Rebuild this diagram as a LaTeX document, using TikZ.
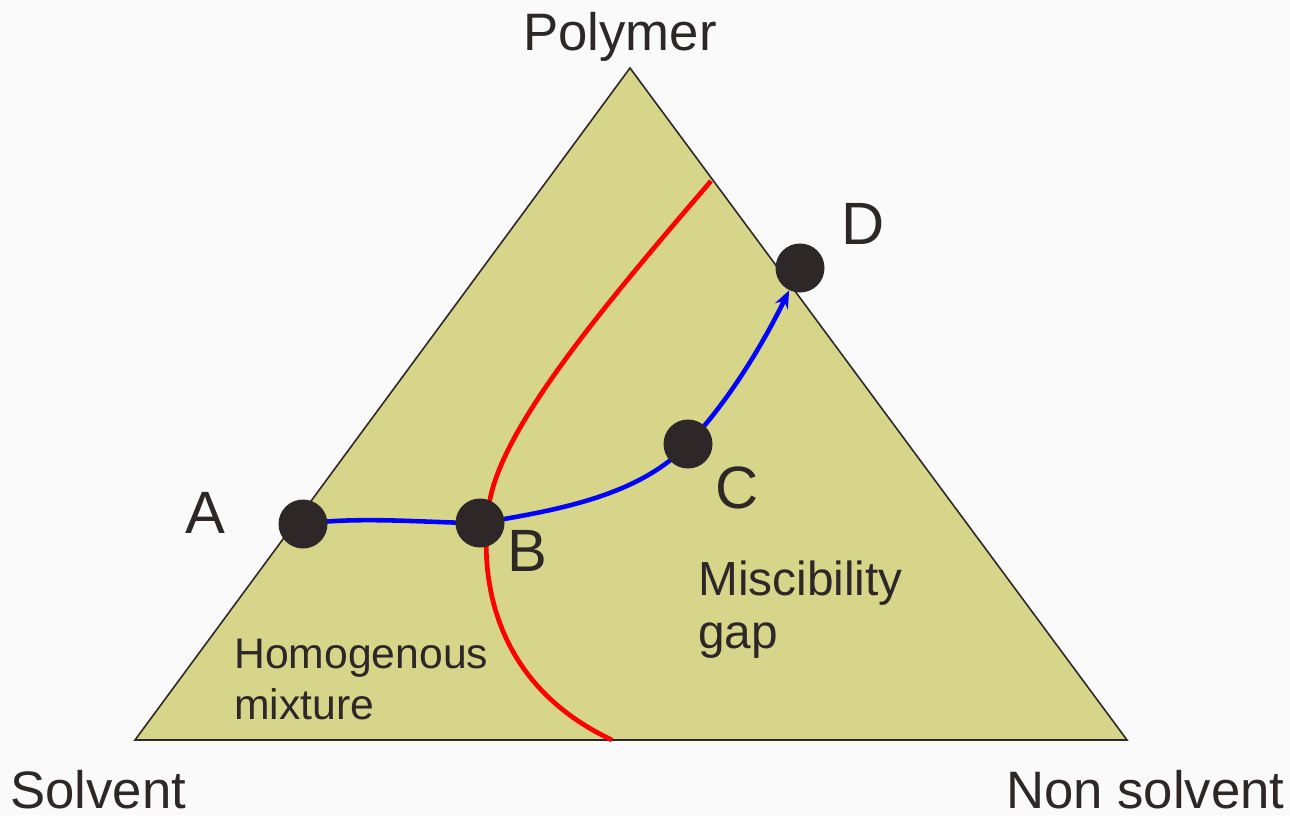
\documentclass[tikz,border=0pt]{standalone}
\usepackage{fontspec}
\setmainfont{Liberation Sans}
\usetikzlibrary{arrows.meta}
\definecolor{bgcol}{HTML}{FAFAFA}
\definecolor{fillcol}{HTML}{D7D58A}
\definecolor{inkcol}{HTML}{2D2728}
\pgfdeclarelayer{front}
\pgfsetlayers{main,front}
\tikzset{
	dot/.style={circle,fill=inkcol,minimum size=0.98cm,inner sep=0pt},
	corner/.style={text=inkcol,font=\fontsize{30}{36}\selectfont,inner sep=0pt},
	letter/.style={text=inkcol,font=\fontsize{34}{40}\selectfont,inner sep=0pt,anchor=base},
	region/.style={text=inkcol,font=\fontsize{24.3}{29}\selectfont,inner sep=0pt,align=left,anchor=base west},
	route/.style={blue,line width=2.6pt},
	binodal/.style={red,line width=2.7pt}
}
\begin{document}
\begin{tikzpicture}[x=0.02cm,y=-0.02cm]
		%Background and page size
		\fill[bgcol] (0,0) rectangle (1290,815);
		\useasboundingbox (0,0) rectangle (1290,815);
		%Ternary triangle
		\draw[fill=fillcol,draw=inkcol,line width=0.9pt] (135,740)--(630,68)--(1127,740)--cycle;
		%Binodal curve
		\draw[binodal] (711,181) .. controls (600,310) and (500,430) .. (489,505) .. controls (478,580) and (495,685) .. (612,740);
		%Composition points
		\begin{pgfonlayer}{front}
		\foreach \name/\pos in {A/{303,524},B/{480,523},C/{688,444},D/{800,268}}
		\node[dot] (\name) at (\pos) {};
		\end{pgfonlayer}
		%Precipitation path
		\draw[route] (A.center) .. controls (360,516) and (430,523) .. (B.center) .. controls (560,510) and (640,495) .. (C.center);
		\draw[route,-{Stealth[length=10pt,width=8pt]}] (C.center) .. controls (730,400) and (765,340) .. (D);
		%Labels
		\node[corner,anchor=base] (polymer) at (620,50) {Polymer};
		\node[corner,anchor=base west] (solvent) at (10,808) {Solvent};
		\node[corner,anchor=base east] (nonsolvent) at (1285,808) {Non solvent};
		\foreach \name/\pos in {A/{205,533},B/{527,571},C/{737,508},D/{863,244}}
		\node[letter] (lab\name) at (\pos) {\name};
		\node[region] (homogenous) at (234,719) {Homogenous\\mixture};
		\node[region,font=\fontsize{27.2}{30}\selectfont] (gap) at (698,648) {Miscibility\\gap};
\end{tikzpicture}
\end{document}
